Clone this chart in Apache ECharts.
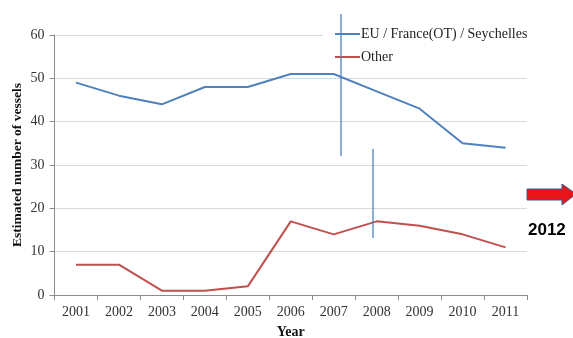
<!DOCTYPE html>
<html>
<head>
<meta charset="utf-8">
<script src="https://cdn.jsdelivr.net/npm/echarts@6/dist/echarts.min.js"></script>
<style>
  html, body { margin: 0; padding: 0; background: #fff; }
  #chart { width: 573px; height: 338px; }
</style>
</head>
<body>
<div id="chart"></div>
<script>
// Vessel counts per year, by flag group
const years = ['2001', '2002', '2003', '2004', '2005', '2006', '2007', '2008', '2009', '2010', '2011'];
const euFranceSeychelles = [49, 46, 44, 48, 48, 51, 51, 47, 43, 35, 34];
const other = [7, 7, 1, 1, 2, 17, 14, 17, 16, 14, 11];
const yTicks = { min: 0, max: 60, interval: 10 };
const seriesNames = ['EU / France(OT) / Seychelles', 'Other'];

const serif = '"Liberation Serif", "DejaVu Serif", serif';
const chart = echarts.init(document.getElementById('chart'), null, { renderer: 'canvas' });

chart.setOption({
  animation: false,
  backgroundColor: '#fff',
  grid: { left: 54.5, right: 46, top: 35, bottom: 43, containLabel: false, outerBoundsMode: 'none' },
  legend: {
    orient: 'vertical',
    left: 323,
    top: 22,
    padding: [5, 12, 5, 12],
    itemGap: 9,
    itemWidth: 25,
    itemHeight: 2,
    icon: 'rect',
    backgroundColor: '#fff',
    textStyle: { fontFamily: serif, fontSize: 14, color: '#222', padding: [0, 0, 0, -4] },
    data: seriesNames
  },
  xAxis: {
    type: 'category',
    data: years,
    boundaryGap: true,
    name: 'Year',
    nameLocation: 'middle',
    nameGap: 30,
    nameMoveOverlap: false,
    nameTextStyle: { fontFamily: serif, fontSize: 14, fontWeight: 'bold', color: '#111' },
    axisLine: { lineStyle: { color: '#8c8c8c', width: 1 } },
    axisTick: { show: true, length: 5, lineStyle: { color: '#8c8c8c' } },
    axisLabel: { fontFamily: serif, fontSize: 14, color: '#333', margin: 10 },
    splitLine: { show: false }
  },
  yAxis: {
    type: 'value',
    min: yTicks.min,
    max: yTicks.max,
    interval: yTicks.interval,
    name: 'Estimated number of vessels',
    nameLocation: 'middle',
    nameRotate: 90,
    nameGap: 29.5,
    nameMoveOverlap: false,
    nameTextStyle: { fontFamily: serif, fontSize: 13.5, fontWeight: 'bold', color: '#111' },
    axisLine: { show: true, lineStyle: { color: '#8c8c8c', width: 1 } },
    axisTick: { show: true, length: 5, lineStyle: { color: '#8c8c8c' } },
    axisLabel: { fontFamily: serif, fontSize: 14, color: '#333', margin: 10 },
    splitLine: { lineStyle: { color: '#d9d9d9', width: 1 } }
  },
  series: [
    {
      name: seriesNames[0],
      type: 'line',
      data: euFranceSeychelles,
      symbol: 'none',
      color: '#4f81bd',
      lineStyle: { width: 2, color: '#4f81bd' },
      z: 3
    },
    {
      name: seriesNames[1],
      type: 'line',
      data: other,
      symbol: 'none',
      color: '#c0504d',
      lineStyle: { width: 2, color: '#c0504d' },
      z: 3
    }
  ],
  graphic: [
    // stray vertical rules across the plot
    { type: 'line', z: 100, shape: { x1: 341, y1: 14, x2: 341, y2: 156 }, style: { stroke: '#4f81bd', lineWidth: 1.3 } },
    { type: 'line', z: 100, shape: { x1: 373, y1: 149, x2: 373, y2: 238 }, style: { stroke: '#4f81bd', lineWidth: 1.3 } },
    // arrow pointing to the next year
    {
      type: 'polygon', z: 100,
      shape: { points: [[527, 189], [562, 189], [562, 184], [576, 194], [562, 205], [562, 200], [527, 200]] },
      style: { fill: '#e8141a', stroke: '#3a5a8c', lineWidth: 1 }
    },
    {
      type: 'text', z: 100, left: 528, top: 222,
      style: { text: '2012', font: 'bold 17px "Liberation Sans", Arial, sans-serif', fill: '#000' }
    }
  ]
});
</script>
</body>
</html>
